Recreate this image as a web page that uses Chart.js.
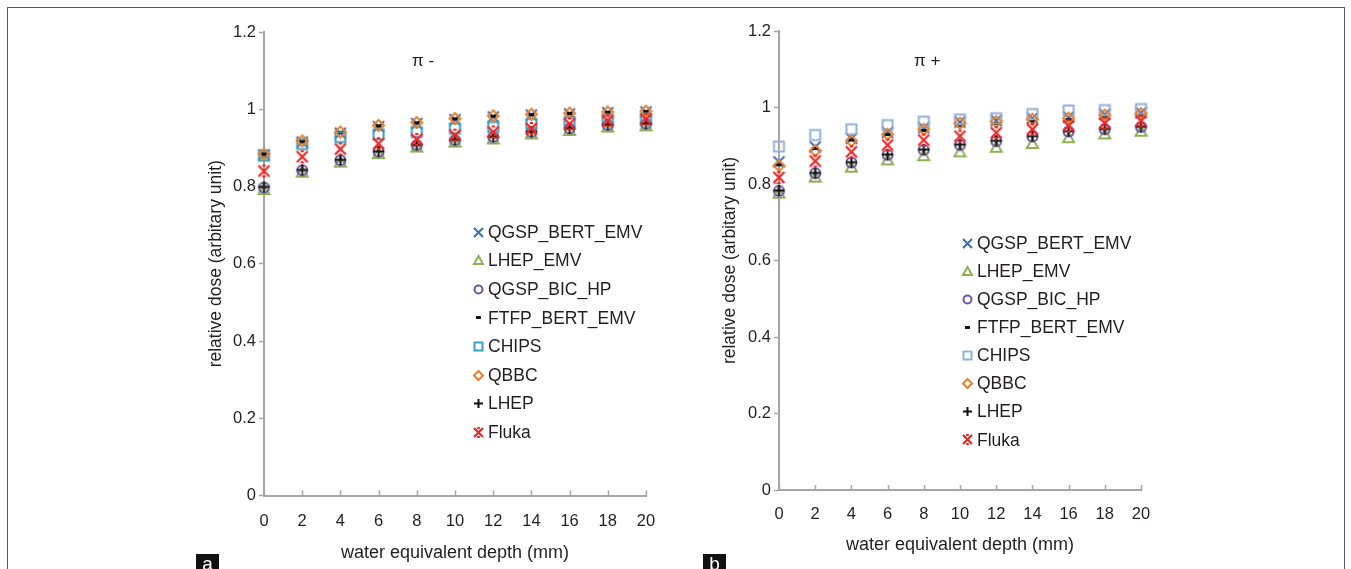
<!DOCTYPE html>
<html>
<head>
<meta charset="utf-8">
<title>Relative dose vs water equivalent depth</title>
<script src="https://cdn.jsdelivr.net/npm/chart.js@4.4.1/dist/chart.umd.min.js"></script>
<style>
  body { margin: 0; background: #fff; font-family: "Liberation Sans", Arial, sans-serif; }
  #page { position: relative; width: 1351px; height: 569px; overflow: hidden; }
  #frame { position: absolute; left: 7px; top: 7px; width: 1338px; height: 620px; box-sizing: border-box; border: 1.5px solid #5a5a5a; }
  canvas { position: absolute; top: 0; }
  .tag { position: absolute; top: 554px; width: 23px; height: 22px; background: #111; color: #fff;
         font-size: 19px; line-height: 20px; text-align: center; }
</style>
</head>
<body>
<div id="page">
  <div id="frame"></div>
  <canvas id="chartA" width="520" height="569" style="left:200px"></canvas>
  <canvas id="chartB" width="520" height="569" style="left:715px"></canvas>
  <div class="tag" style="left:196px">a</div>
  <div class="tag" style="left:703px">b</div>
</div>

<script>
  // depth values (mm) and series names, in legend order
  const depth = [0, 2, 4, 6, 8, 10, 12, 14, 16, 18, 20];
  const seriesNames = ["QGSP_BERT_EMV", "LHEP_EMV", "QGSP_BIC_HP", "FTFP_BERT_EMV", "CHIPS", "QBBC", "LHEP", "Fluka"];

  // panel a : pi -
  const minusBertEmv = [0.882, 0.915, 0.938, 0.955, 0.963, 0.973, 0.980, 0.985, 0.988, 0.991, 0.993];
  const minusLhepEmv = [0.792, 0.837, 0.863, 0.885, 0.902, 0.915, 0.923, 0.936, 0.945, 0.954, 0.957];
  const minusBicHp   = [0.797, 0.842, 0.868, 0.890, 0.907, 0.920, 0.928, 0.941, 0.950, 0.959, 0.962];
  const minusFtfp    = [0.884, 0.917, 0.940, 0.957, 0.965, 0.975, 0.982, 0.986, 0.989, 0.992, 0.994];
  const minusChips   = [0.880, 0.910, 0.928, 0.935, 0.941, 0.950, 0.954, 0.962, 0.967, 0.973, 0.976];
  const minusQbbc    = [0.884, 0.918, 0.941, 0.958, 0.966, 0.976, 0.983, 0.987, 0.990, 0.993, 0.995];
  const minusLhep    = [0.799, 0.843, 0.869, 0.891, 0.908, 0.921, 0.929, 0.942, 0.951, 0.960, 0.963];
  const minusFluka   = [0.840, 0.877, 0.897, 0.911, 0.922, 0.933, 0.941, 0.950, 0.962, 0.970, 0.974];

  // panel b : pi +
  const plusBertEmv = [0.858, 0.897, 0.919, 0.935, 0.947, 0.962, 0.966, 0.972, 0.975, 0.982, 0.986];
  const plusLhepEmv = [0.776, 0.818, 0.844, 0.863, 0.874, 0.884, 0.896, 0.906, 0.921, 0.931, 0.938];
  const plusBicHp   = [0.782, 0.828, 0.856, 0.876, 0.889, 0.902, 0.912, 0.924, 0.937, 0.943, 0.949];
  const plusFtfp    = [0.850, 0.893, 0.915, 0.929, 0.940, 0.952, 0.958, 0.964, 0.968, 0.975, 0.980];
  const plusChips   = [0.898, 0.928, 0.943, 0.954, 0.963, 0.969, 0.972, 0.983, 0.992, 0.993, 0.996];
  const plusQbbc    = [0.848, 0.887, 0.913, 0.930, 0.943, 0.959, 0.963, 0.969, 0.972, 0.980, 0.984];
  const plusLhep    = [0.783, 0.829, 0.857, 0.877, 0.890, 0.903, 0.913, 0.925, 0.938, 0.944, 0.950];
  const plusFluka   = [0.817, 0.860, 0.884, 0.902, 0.915, 0.925, 0.934, 0.943, 0.952, 0.959, 0.965];

  const yTicks = [0, 0.2, 0.4, 0.6, 0.8, 1, 1.2];

  const TEXT = '#231f20', AXIS = '#a6a6a6', FONT = '"Liberation Sans", Arial, sans-serif';

  // marker pictures (Excel-like), drawn once on small canvases
  function marker(kind, color, s) {
    const pad = 2, n = s + pad * 2;
    const c = document.createElement('canvas');
    c.width = n; c.height = n;
    const g = c.getContext('2d');
    g.strokeStyle = color; g.fillStyle = color; g.lineWidth = 2;
    const m = n / 2, h = s / 2;
    g.beginPath();
    if (kind === 'x') {
      g.moveTo(m - h, m - h); g.lineTo(m + h, m + h);
      g.moveTo(m + h, m - h); g.lineTo(m - h, m + h);
    } else if (kind === 'tri') {
      g.moveTo(m, m - h); g.lineTo(m + h, m + h - 1); g.lineTo(m - h, m + h - 1); g.closePath();
    } else if (kind === 'circle') {
      g.arc(m, m, h - 0.5, 0, Math.PI * 2);
    } else if (kind === 'dash') {
      g.fillRect(m - h * 0.55, m - 1.5, h * 1.1, 3);
    } else if (kind === 'square') {
      g.rect(m - h + 0.5, m - h + 0.5, s - 1, s - 1);
    } else if (kind === 'diamond') {
      g.moveTo(m, m - h); g.lineTo(m + h, m); g.lineTo(m, m + h); g.lineTo(m - h, m); g.closePath();
    } else if (kind === 'plus') {
      g.moveTo(m - h, m); g.lineTo(m + h, m);
      g.moveTo(m, m - h); g.lineTo(m, m + h);
    } else if (kind === 'star') {
      g.lineWidth = 2.2;
      g.moveTo(m - h, m - h); g.lineTo(m + h, m + h);
      g.moveTo(m + h, m - h); g.lineTo(m - h, m + h);
      g.moveTo(m - h * 0.3, m - h); g.lineTo(m + h * 0.3, m - h);
      g.moveTo(m - h * 0.3, m + h); g.lineTo(m + h * 0.3, m + h);
    }
    if (kind !== 'dash') g.stroke();
    return c;
  }

  const kinds = ['x', 'tri', 'circle', 'dash', 'square', 'diamond', 'plus', 'star'];
  const colorsA = ['#3b6db3', '#8db154', '#6a55a1', '#111111', '#3d9fbf', '#e5802e', '#111111', '#f22424'];
  const colorsB = ['#3b6db3', '#8db154', '#6a55a1', '#111111', '#93b0d8', '#e5802e', '#111111', '#f22424'];

  // legend drawn inside the plot area
  const sideLegend = {
    id: 'sideLegend',
    afterDraw(chart, args, o) {
      const ctx = chart.ctx, a = chart.chartArea;
      ctx.save();
      ctx.font = '17.5px ' + FONT; ctx.fillStyle = TEXT; ctx.textBaseline = 'middle';
      chart.data.datasets.forEach((ds, i) => {
        const x = a.left + o.dx, y = o.y + i * o.step, ic = o.icons[i];
        ctx.drawImage(ic, Math.round(x - ic.width / 2), Math.round(y - ic.height / 2));
        ctx.fillText(ds.label, x + o.gap, y + 1);
      });
      ctx.font = '17px ' + FONT;
      ctx.fillText(o.title, a.left + o.titleDx, o.titleY);
      ctx.restore();
    }
  };

  // x ticks point up into the plot
  const innerTicks = {
    id: 'innerTicks',
    beforeDatasetsDraw(chart) {
      const sx = chart.scales.x, y0 = chart.chartArea.bottom, ctx = chart.ctx;
      ctx.save(); ctx.strokeStyle = AXIS; ctx.lineWidth = 1.5;
      sx.ticks.forEach(t => {
        const px = Math.round(sx.getPixelForValue(t.value)) + 0.5;
        ctx.beginPath(); ctx.moveTo(px, y0); ctx.lineTo(px, y0 - 5); ctx.stroke();
      });
      ctx.restore();
    }
  };

  function makeChart(id, values, colors, cfg) {
    const datasets = seriesNames.map((name, i) => ({
      label: name,
      data: depth.map((d, k) => ({ x: d, y: values[i][k] })),
      pointStyle: marker(kinds[i], colors[i], 11),
      pointRadius: 6,
      showLine: false,
      clip: false,
      order: seriesNames.length - i
    }));
    const icons = kinds.map((k, i) => marker(k, colors[i], 9));
    return new Chart(document.getElementById(id), {
      type: 'scatter',
      data: { datasets },
      options: {
        responsive: false,
        animation: false,
        events: [],
        layout: { padding: { left: 0, top: cfg.top, right: cfg.right, bottom: 0 } },
        plugins: {
          legend: { display: false },
          tooltip: { enabled: false },
          sideLegend: { icons, dx: cfg.legendDx, y: cfg.legendY, step: cfg.legendStep, gap: 10,
                        title: cfg.title, titleDx: cfg.titleDx, titleY: 61 }
        },
        scales: {
          x: {
            type: 'linear', min: 0, max: 20,
            ticks: { stepSize: 2, padding: cfg.xTickPad, color: TEXT, font: { family: FONT, size: 16.5 } },
            grid: { drawOnChartArea: false, drawTicks: false },
            border: { color: AXIS, width: 2 },
            title: { display: true, text: 'water equivalent depth (mm)', color: TEXT,
                     font: { family: FONT, size: 18 }, padding: { top: 0, bottom: cfg.xTitlePad } },
            afterFit: s => { s.height = cfg.xh; }
          },
          y: {
            min: 0, max: 1.2,
            afterBuildTicks: s => { s.ticks = yTicks.map(v => ({ value: v })); },
            ticks: { padding: 3, color: TEXT, font: { family: FONT, size: 16.5 }, callback: v => String(+v.toFixed(1)) },
            grid: { drawOnChartArea: false, drawTicks: true, tickLength: 5, color: AXIS, tickWidth: 1.5 },
            border: { color: AXIS, width: 2 },
            title: { display: true, text: 'relative dose (arbitary unit)', color: TEXT,
                     font: { family: FONT, size: 17.5 }, padding: { top: cfg.yTitlePad, bottom: 0 } },
            afterFit: s => { s.width = 64; }
          }
        }
      },
      plugins: [innerTicks, sideLegend]
    });
  }

  makeChart('chartA',
    [minusBertEmv, minusLhepEmv, minusBicHp, minusFtfp, minusChips, minusQbbc, minusLhep, minusFluka],
    colorsA,
    { top: 32, right: 74, xh: 73.5, xTickPad: 16, xTitlePad: 5.5, yTitlePad: 6,
      legendDx: 214, legendY: 232, legendStep: 28.6, title: 'π -', titleDx: 148 });

  makeChart('chartB',
    [plusBertEmv, plusLhepEmv, plusBicHp, plusFtfp, plusChips, plusQbbc, plusLhep, plusFluka],
    colorsB,
    { top: 31, right: 94, xh: 79, xTickPad: 15, xTitlePad: 13, yTitlePad: 5,
      legendDx: 188, legendY: 243, legendStep: 28.1, title: 'π +', titleDx: 135 });
</script>
</body>
</html>
